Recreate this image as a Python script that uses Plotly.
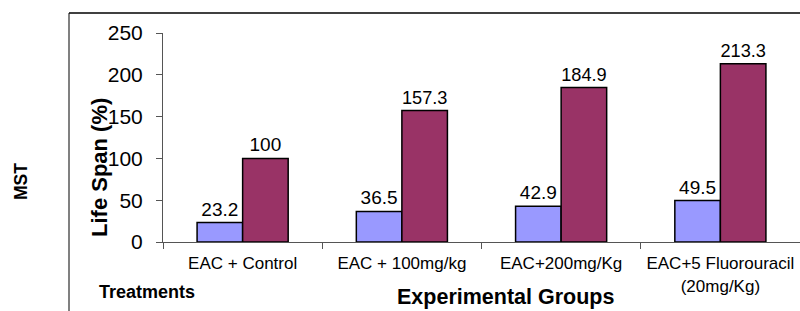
import plotly.graph_objects as go

categories = ["EAC + Control", "EAC + 100mg/kg", "EAC+200mg/Kg", "EAC+5 Fluorouracil<br>(20mg/Kg)"]
mst_values = [23.2, 36.5, 42.9, 49.5]
life_span_values = [100, 157.3, 184.9, 213.3]
y_ticks = [0, 50, 100, 150, 200, 250]

FONT = "Arial, Liberation Sans, sans-serif"

fig = go.Figure()
fig.add_trace(go.Bar(
    x=categories, y=mst_values, name="MST",
    marker=dict(color="#9999FF", line=dict(color="black", width=1.5)),
    text=[str(v) for v in mst_values], textposition="outside",
    textfont=dict(size=19, color="black", family=FONT), cliponaxis=False,
))
fig.add_trace(go.Bar(
    x=categories, y=life_span_values, name="Life Span",
    marker=dict(color="#993366", line=dict(color="black", width=1.5)),
    text=[f"{v:g}" for v in life_span_values], textposition="outside",
    textfont=dict(size=19, color="black", family=FONT), cliponaxis=False,
))

fig.update_layout(
    width=800, height=311,
    margin=dict(l=163, r=0, t=33, b=69, autoexpand=False),
    paper_bgcolor="white", plot_bgcolor="white",
    showlegend=False,
    barmode="group", bargap=0.428, bargroupgap=0,
    font=dict(family=FONT, color="black"),
    xaxis=dict(
        showline=True, linecolor="#555555", linewidth=1,
        ticks="outside", tickson="boundaries", ticklen=6, tickcolor="#555555",
        tickfont=dict(size=17, family=FONT, color="black"), tickangle=0,
        showgrid=False, zeroline=False, ticklabelstandoff=6,
    ),
    yaxis=dict(
        range=[0, 250], tickvals=y_ticks,
        showline=True, linecolor="#555555", linewidth=1,
        ticks="outside", ticklen=6, tickcolor="#555555",
        tickfont=dict(size=21, family=FONT, color="black"),
        showgrid=False, zeroline=False, ticklabelstandoff=9,
    ),
)

# plot area: x 163..800 (637 px), y 33..242 (209 px) in page pixels
PW, PH = 637.0, 209.0
def px(x):
    return (x - 163) / PW
def py(y):
    return (242 - y) / PH

fig.add_shape(type="line", xref="paper", yref="paper",
              x0=px(69), x1=px(69), y0=py(320), y1=py(13),
              line=dict(color="#808080", width=2))
fig.add_shape(type="line", xref="paper", yref="paper",
              x0=px(69), x1=1.0, y0=py(13), y1=py(13),
              line=dict(color="black", width=1.5))

fig.add_annotation(text="<b>Life Span (%)</b>", xref="paper", yref="paper",
                   x=px(100), y=py(168), textangle=-90, showarrow=False,
                   xanchor="center", yanchor="middle",
                   font=dict(size=22, family=FONT, color="black"))
fig.add_annotation(text="<b>MST</b>", xref="paper", yref="paper",
                   x=px(21), y=py(182), textangle=-90, showarrow=False,
                   xanchor="center", yanchor="middle",
                   font=dict(size=17.5, family=FONT, color="black"))
fig.add_annotation(text="<b>Treatments</b>", xref="paper", yref="paper",
                   x=px(147), y=py(292), showarrow=False,
                   xanchor="center", yanchor="middle",
                   font=dict(size=18, family=FONT, color="black"))
fig.add_annotation(text="<b>Experimental Groups</b>", xref="paper", yref="paper",
                   x=px(505), y=py(297), showarrow=False,
                   xanchor="center", yanchor="middle",
                   font=dict(size=21.5, family=FONT, color="black"))

fig.write_html(
    "out.html",
    config={"displayModeBar": False},
    post_script="document.body.style.margin='0';document.body.style.overflow='hidden';",
)
